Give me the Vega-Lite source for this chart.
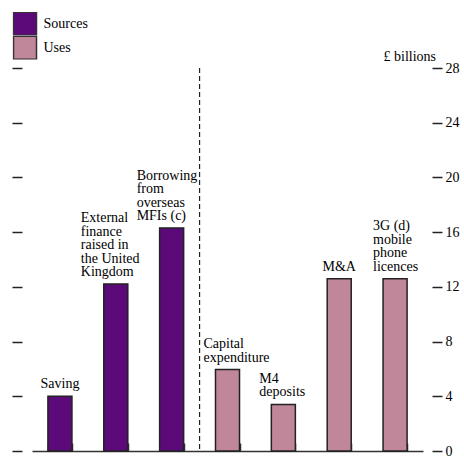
{
  "$schema": "https://vega.github.io/schema/vega-lite/v6.json",
  "width": 391,
  "height": 383,
  "autosize": {"type": "none"},
  "padding": {"left": 32, "top": 68, "right": 41, "bottom": 6},
  "background": "white",
  "config": {
    "view": {"stroke": null},
    "font": "Liberation Serif",
    "text": {"font": "Liberation Serif", "fontSize": 14, "lineHeight": 13.5, "color": "black", "lineBreak": "\n"}
  },
  "datasets": {
    "bars": [
      {"item": "Saving", "type": "Sources", "value": 4.0, "label": "Saving"},
      {"item": "External finance", "type": "Sources", "value": 12.2, "label": "External\nfinance\nraised in\nthe United\nKingdom"},
      {"item": "Borrowing from overseas MFIs", "type": "Sources", "value": 16.3, "label": "Borrowing\nfrom\noverseas\nMFIs (c)"},
      {"item": "Capital expenditure", "type": "Uses", "value": 5.95, "label": "Capital\nexpenditure"},
      {"item": "M4 deposits", "type": "Uses", "value": 3.4, "label": "M4\ndeposits"},
      {"item": "M&A", "type": "Uses", "value": 12.6, "label": "M&A"},
      {"item": "3G mobile phone licences", "type": "Uses", "value": 12.6, "label": "3G (d)\nmobile\nphone\nlicences"}
    ],
    "divider": [{"pos": 3}]
  },
  "layer": [
    {
      "data": {"name": "bars"},
      "encoding": {
        "x": {
          "field": "item", "type": "nominal", "sort": null,
          "scale": {"paddingInner": 0.57, "paddingOuter": 0.285},
          "axis": {"title": null, "labels": false, "domain": true, "domainColor": "#333", "domainWidth": 1.5,
                   "ticks": true, "tickSize": -8, "tickBand": "extent", "tickColor": "#333", "tickWidth": 1.5, "grid": false}
        },
        "y": {"field": "value", "type": "quantitative"}
      },
      "layer": [
        {
          "mark": {"type": "bar", "stroke": "#222", "strokeWidth": 1.5},
          "encoding": {
            "y": {
              "field": "value", "type": "quantitative",
              "scale": {"domain": [0, 28], "nice": false},
              "axis": {"orient": "left", "values": [0, 4, 8, 12, 16, 20, 24, 28], "labels": false, "domain": false,
                       "grid": false, "offset": 10, "tickSize": 10, "tickColor": "#222", "tickWidth": 1.5, "title": null}
            },
            "color": {
              "field": "type", "type": "nominal",
              "scale": {"domain": ["Sources", "Uses"], "range": ["#5c0a7a", "#c0879a"]},
              "legend": {
                "title": null, "orient": "none", "legendX": -19.5, "legendY": -56,
                "symbolType": "square", "symbolSize": 529, "symbolStrokeColor": "#333", "symbolStrokeWidth": 1.5,
                "symbolOpacity": 1, "rowPadding": 0, "clipHeight": 23.5, "padding": 0, "labelOffset": 6,
                "labelFont": "Liberation Serif", "labelFontSize": 14, "labelColor": "black"
              }
            }
          }
        },
        {
          "transform": [{"filter": "datum.item === 'External finance'"}],
          "mark": {"type": "text", "align": "left", "baseline": "bottom", "dx": -23, "dy": -59},
          "encoding": {
            "x": {"field": "item", "type": "nominal", "sort": null, "bandPosition": 0},
            "y": {
              "field": "value", "type": "quantitative",
              "axis": {"orient": "right", "values": [0, 4, 8, 12, 16, 20, 24, 28], "domain": false, "grid": false,
                       "offset": 9, "tickSize": 10, "tickColor": "#222", "tickWidth": 1.5, "labelPadding": 3,
                       "labelFont": "Liberation Serif", "labelFontSize": 14, "labelColor": "black",
                       "title": "£ billions", "titleAngle": 0, "titleX": -49, "titleY": -8, "titleAlign": "left",
                       "titleBaseline": "alphabetic", "titleFont": "Liberation Serif", "titleFontSize": 14,
                       "titleFontWeight": "normal", "titleColor": "black"}
            },
            "text": {"field": "label"}
          }
        },
        {
          "transform": [{"filter": "datum.item === 'Borrowing from overseas MFIs'"}],
          "mark": {"type": "text", "align": "left", "baseline": "bottom", "dx": -23, "dy": -45.5},
          "encoding": {
            "x": {"field": "item", "type": "nominal", "sort": null, "bandPosition": 0},
            "y": {"field": "value", "type": "quantitative", "axis": null},
            "text": {"field": "label"}
          }
        },
        {
          "transform": [{"filter": "datum.item === 'Capital expenditure' || datum.item === 'M4 deposits'"}],
          "mark": {"type": "text", "align": "left", "baseline": "bottom", "dx": -12, "dy": -18.5},
          "encoding": {
            "x": {"field": "item", "type": "nominal", "sort": null, "bandPosition": 0},
            "y": {"field": "value", "type": "quantitative", "axis": null},
            "text": {"field": "label"}
          }
        },
        {
          "transform": [{"filter": "datum.item === '3G mobile phone licences'"}],
          "mark": {"type": "text", "align": "left", "baseline": "bottom", "dx": -10, "dy": -45.5},
          "encoding": {
            "x": {"field": "item", "type": "nominal", "sort": null, "bandPosition": 0},
            "y": {"field": "value", "type": "quantitative", "axis": null},
            "text": {"field": "label"}
          }
        },
        {
          "transform": [{"filter": "datum.item === 'Saving' || datum.item === 'M&A'"}],
          "mark": {"type": "text", "align": "center", "baseline": "bottom", "dy": -5},
          "encoding": {
            "x": {"field": "item", "type": "nominal", "sort": null},
            "y": {"field": "value", "type": "quantitative", "axis": null},
            "text": {"field": "label"}
          }
        }
      ],
      "resolve": {"axis": {"y": "independent"}}
    },
    {
      "data": {"name": "divider"},
      "mark": {"type": "rule", "strokeDash": [5, 3], "color": "#222", "strokeWidth": 1.2},
      "encoding": {
        "x": {"field": "pos", "type": "quantitative", "scale": {"domain": [0, 7], "nice": false, "zero": false}, "axis": null}
      }
    }
  ],
  "resolve": {"scale": {"x": "independent"}}
}
